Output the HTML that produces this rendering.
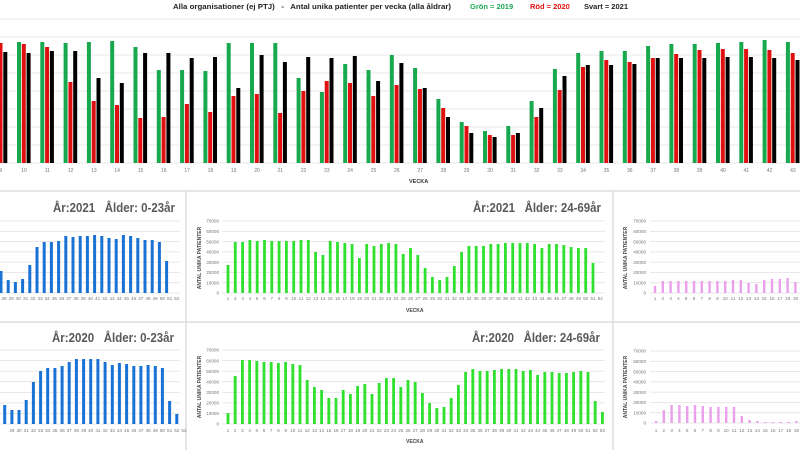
<!DOCTYPE html>
<html><head><meta charset="utf-8"><style>
html,body{margin:0;padding:0;background:#fff;width:800px;height:450px;overflow:hidden}
svg{display:block;font-family:"Liberation Sans",sans-serif}
</style></head><body>
<svg id="s" width="800" height="450" viewBox="0 0 800 450" xmlns="http://www.w3.org/2000/svg">
<text x="173" y="9" font-size="7.5" font-weight="bold" fill="#222" xml:space="preserve" textLength="278" lengthAdjust="spacingAndGlyphs">Alla organisationer (ej PTJ)   -   Antal unika patienter per vecka (alla åldrar)</text>
<text x="470" y="9" font-size="7.5" font-weight="bold" fill="#1aa850">Grön = 2019</text>
<text x="530" y="9" font-size="7.5" font-weight="bold" fill="#e01010">Röd = 2020</text>
<text x="584" y="9" font-size="7.5" font-weight="bold" fill="#222">Svart = 2021</text>
<text x="409" y="183" font-size="5.5" font-weight="bold" fill="#333">VECKA</text>
<line x1="0" y1="191" x2="800" y2="191" stroke="#ddd" stroke-width="1.5"/>
<line x1="186" y1="191" x2="186" y2="450" stroke="#ddd" stroke-width="1.5"/>
<line x1="613" y1="191" x2="613" y2="450" stroke="#ddd" stroke-width="1.5"/>
<line x1="0" y1="322" x2="800" y2="322" stroke="#ddd" stroke-width="1.5"/>
<text x="53" y="212" font-size="13" font-weight="bold" fill="#595959" xml:space="preserve" textLength="122" lengthAdjust="spacingAndGlyphs">År:2021   Ålder: 0-23år</text>
<text x="52" y="342" font-size="13" font-weight="bold" fill="#595959" xml:space="preserve" textLength="122" lengthAdjust="spacingAndGlyphs">År:2020   Ålder: 0-23år</text>
<text x="473" y="212" font-size="13" font-weight="bold" fill="#595959" xml:space="preserve" textLength="128" lengthAdjust="spacingAndGlyphs">År:2021   Ålder: 24-69år</text>
<text x="472" y="342" font-size="13" font-weight="bold" fill="#595959" xml:space="preserve" textLength="128" lengthAdjust="spacingAndGlyphs">År:2020   Ålder: 24-69år</text>
<text x="406" y="312" font-size="5" font-weight="bold" fill="#444">VECKA</text>
<text x="406" y="443" font-size="5" font-weight="bold" fill="#444">VECKA</text>
<text transform="translate(201,258) rotate(-90)" font-size="5" font-weight="bold" fill="#444" text-anchor="middle">ANTAL UNIKA PATIENTER</text>
<text transform="translate(201,387) rotate(-90)" font-size="5" font-weight="bold" fill="#444" text-anchor="middle">ANTAL UNIKA PATIENTER</text>
<text transform="translate(627,258) rotate(-90)" font-size="5" font-weight="bold" fill="#444" text-anchor="middle">ANTAL UNIKA PATIENTER</text>
<text transform="translate(627,387) rotate(-90)" font-size="5" font-weight="bold" fill="#444" text-anchor="middle">ANTAL UNIKA PATIENTER</text>
<g id="g"></g>
</svg>
<script>
var g=document.getElementById('g'),h='';
function R(x,y,w,hh,c){h+='<rect x="'+x.toFixed(1)+'" y="'+y+'" width="'+w+'" height="'+hh+'" fill="'+c+'"/>';}
function L(x1,y1,x2,y2){h+='<line x1="'+x1+'" y1="'+y1+'" x2="'+x2+'" y2="'+y2+'" stroke="#e2e2e2" stroke-width="0.8"/>';}
function T(x,y,s,fs,a){h+='<text x="'+x.toFixed(1)+'" y="'+y+'" font-size="'+fs+'" fill="#777" text-anchor="'+(a||'middle')+'">'+s+'</text>';}
for(var i=0;i<9;i++)L(0,19+i*18,800,19+i*18);
var G=[null,42,42,43,42,41,47,70,70,71,43,43,43,78,92,64,70,55,68,99,122,131,126,101,69,53,51,51,46,44,44,43,42,40,42];
var Rd=[43,44,47,82,101,105,118,117,104,112,96,94,113,91,81,83,96,85,89,108,126,135,135,117,90,67,60,62,58,54,50,49,49,50,53];
var B=[52,53,51,51,78,83,53,53,58,57,88,55,62,57,58,56,81,63,88,117,133,137,133,108,76,65,65,64,58,58,58,57,57,58,60];
for(var k=0;k<35;k++){var w=9+k,cx=24+(w-10)*23.3;
 if(G[k])R(cx-7,G[k],4,163-G[k],'#18a84e');
 R(cx-2.2,Rd[k],4,163-Rd[k],'#e01010');
 R(cx+2.6,B[k],4,163-B[k],'#000');
 T(cx,172,w,5);}
function grid(x1,x2,top,base,labels,lx){for(var i=0;i<8;i++){var y=base-i*(base-top)/7;L(x1,y.toFixed(1),x2,y.toFixed(1));if(labels)T(lx,(y+1.7).toFixed(1),i?i*10000:0,4.6,'end');}}
grid(0,180,221,293,false);grid(0,180,350,424,false);
grid(222,605,221,293,true,219);grid(222,605,350,424,true,219);
grid(650,800,221,293,true,646);grid(650,800,351,423,true,646);
var b1=[271,280,282,279,265,247,242,242,241,236,237,236,236,235,236,238,239,235,236,238,240,240,242,261];
b1.forEach(function(v,i){var x=1+i*7.2;R(x-1.5,v,3,293-v,'#1a73d4');});
for(var w=28;w<=52;w++)T(1+(w-28)*7.2+3,300,w,4.6);
var b2=[405,410,410,400,382,371,368,368,366,362,359,359,359,359,362,365,363,364,366,366,365,366,368,401,414];
b2.forEach(function(v,i){var x=4.7+i*7.17;R(x-1.5,v,3,424-v,'#1a73d4');});
for(var w=29;w<=53;w++)T(4.7+(w-28)*7.17,432,w,4.6);
var g1=[265,242,242,240,241,240,241,241,241,241,240,240,252,255,241,242,243,244,258,244,246,244,243,244,254,248,255,268,277,280,277,266,252,246,246,246,244,244,243,243,243,243,244,248,244,244,245,247,248,248,263];
g1.forEach(function(v,i){var x=228+i*7.3;R(x-1.4,v,2.8,293-v,'#2fe02f');});
for(var w=1;w<=52;w++)T(228+(w-1)*7.3,300,w,4.6);
var g2=[413,376,360,360,361,362,362,363,362,364,365,380,387,390,398,398,390,394,386,384,394,383,378,378,387,380,382,393,403,408,407,398,385,372,369,371,371,370,369,369,369,371,370,375,372,372,373,373,372,371,372,401,412];
g2.forEach(function(v,i){var x=228+i*7.2;R(x-1.4,v,2.8,424-v,'#2fe02f');});
for(var w=1;w<=53;w++)T(228+(w-1)*7.2,432,w,4.6);
var p1=[286,281,281,281,281,281,281,281,281,281,280,280,283,284,280,279,279,278,282,278,280,281];
p1.forEach(function(v,i){var x=655+i*7.8;R(x-1.2,v,2.4,293-v,'#eaa0ea');});
for(var w=1;w<=22;w++)T(655+(w-1)*7.8,300,w,4.6);
var p2=[421,410,405,405,406,405,406,407,407,407,407,416,420,421,422,422,422,422,421,421,421,421];
p2.forEach(function(v,i){var x=656+i*7.8;R(x-1.2,v,2.4,423-v,'#eaa0ea');});
for(var w=1;w<=22;w++)T(656+(w-1)*7.8,432,w,4.6);
g.innerHTML=h;
</script>
</body></html>
